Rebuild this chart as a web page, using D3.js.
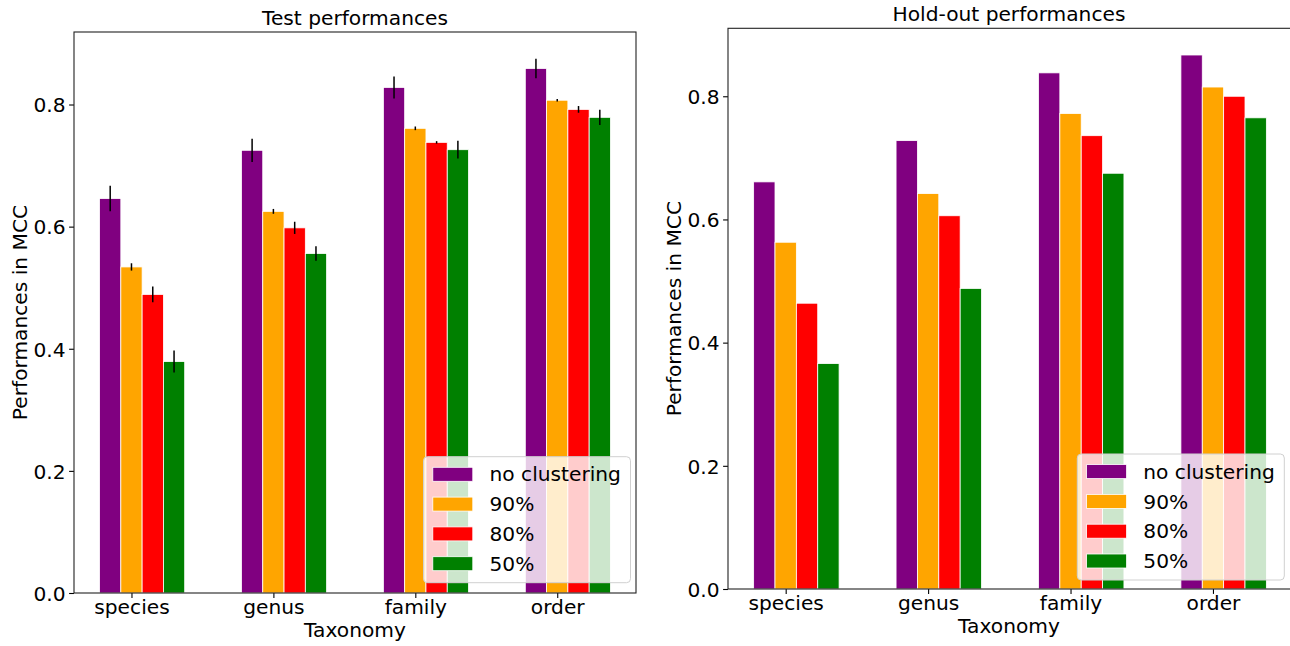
<!DOCTYPE html>
<html>
<head>
<meta charset="utf-8">
<script src="https://cdn.jsdelivr.net/npm/d3@7"></script>
<style>
  html, body { margin: 0; padding: 0; background: #fff; }
  svg { display: block; }
  text { font-family: "DejaVu Sans", sans-serif; fill: #000; }
</style>
</head>
<body>
<svg id="chart" width="1290" height="646"></svg>
<script>
// ---------- data ----------
const categories = ["species", "genus", "family", "order"];
const seriesNames = ["no clustering", "90%", "80%", "50%"];
const seriesColors = ["purple", "orange", "red", "green"];
const yTickValues = [0.0, 0.2, 0.4, 0.6, 0.8];

// Test performances (means and error half-widths)
const testNoClustering = [0.646, 0.725, 0.828, 0.859];
const test90 = [0.534, 0.625, 0.761, 0.807];
const test80 = [0.489, 0.598, 0.738, 0.792];
const test50 = [0.379, 0.556, 0.726, 0.779];
const testErrNoClustering = [0.021, 0.019, 0.018, 0.016];
const testErr90 = [0.006, 0.004, 0.003, 0.002];
const testErr80 = [0.013, 0.010, 0.002, 0.0055];
const testErr50 = [0.018, 0.012, 0.0145, 0.0125];

// Hold-out performances
const holdNoClustering = [0.661, 0.728, 0.838, 0.867];
const hold90 = [0.563, 0.642, 0.772, 0.815];
const hold80 = [0.464, 0.606, 0.736, 0.800];
const hold50 = [0.366, 0.488, 0.675, 0.765];

// ---------- panel layout ----------
const panels = [
  { title: "Test performances", x0: 74, x1: 636, y0: 32, y1: 593,
    values: [testNoClustering, test90, test80, test50],
    errors: [testErrNoClustering, testErr90, testErr80, testErr50],
    legendX: 423.5, legendY: 456.7 },
  { title: "Hold-out performances", x0: 728, x1: 1292, y0: 28.3, y1: 589,
    values: [holdNoClustering, hold90, hold80, hold50],
    errors: null,
    legendX: 1077.3, legendY: 454 }
];

const svg = d3.select("#chart");
const FS = 20.2;
const barW = 0.15;

panels.forEach(p => {
  const g = svg.append("g");
  const nCat = categories.length;
  // x-limits like matplotlib default margins (5%)
  const lo = -1 * barW - barW / 2, hi = (nCat - 1) + 2 * barW + barW / 2;
  const span = hi - lo;
  const x = d3.scaleLinear().domain([lo - 0.05 * span, hi + 0.05 * span]).range([p.x0, p.x1]);

  let maxTop = 0;
  p.values.forEach((arr, s) => arr.forEach((v, i) => {
    const e = p.errors ? p.errors[s][i] : 0;
    maxTop = Math.max(maxTop, v + e);
  }));
  const y = d3.scaleLinear().domain([0, maxTop * 1.05]).range([p.y1, p.y0]);

  // bars
  p.values.forEach((arr, s) => {
    const off = (s - 1) * barW;
    g.append("g").selectAll("rect")
      .data(arr)
      .join("rect")
      .attr("x", (d, i) => x(i + off - barW / 2))
      .attr("width", (d, i) => x(i + off + barW / 2) - x(i + off - barW / 2))
      .attr("y", d => y(d))
      .attr("height", d => y(0) - y(d))
      .attr("fill", seriesColors[s])
      .attr("stroke", "#fff")
      .attr("stroke-width", 0.8);
    if (p.errors) {
      g.append("g").selectAll("line")
        .data(arr)
        .join("line")
        .attr("x1", (d, i) => x(i + off))
        .attr("x2", (d, i) => x(i + off))
        .attr("y1", (d, i) => y(d - p.errors[s][i]))
        .attr("y2", (d, i) => y(d + p.errors[s][i]))
        .attr("stroke", "#000")
        .attr("stroke-width", 1.5);
    }
  });

  // axes
  const xAxis = d3.axisBottom(x)
    .tickValues(d3.range(nCat))
    .tickFormat(i => categories[i])
    .tickSizeOuter(0).tickSize(4.9).tickPadding(4);
  const gx = g.append("g").attr("transform", `translate(0,${p.y1})`).call(xAxis);
  gx.select(".domain").remove();
  gx.selectAll("line").attr("stroke", "#000").attr("stroke-width", 1.1);
  gx.selectAll("text").attr("font-size", FS).attr("font-family", "DejaVu Sans")
    .attr("dy", null).attr("y", 20.5).attr("dominant-baseline", "alphabetic");

  const yAxis = d3.axisLeft(y)
    .tickValues(yTickValues)
    .tickFormat(d3.format(".1f"))
    .tickSizeOuter(0).tickSize(4.9).tickPadding(3.6);
  const gy = g.append("g").attr("transform", `translate(${p.x0},0)`).call(yAxis);
  gy.select(".domain").remove();
  gy.selectAll("line").attr("stroke", "#000").attr("stroke-width", 1.1);
  gy.selectAll("text").attr("font-size", FS).attr("font-family", "DejaVu Sans")
    .attr("dy", "0.36em");

  // frame (spines)
  g.append("rect")
    .attr("x", p.x0).attr("y", p.y0)
    .attr("width", p.x1 - p.x0).attr("height", p.y1 - p.y0)
    .attr("fill", "none").attr("stroke", "#222").attr("stroke-width", 1.1);

  const cx = (p.x0 + p.x1 - (p.x1 > 1290 ? 2 : 0)) / 2;
  // title
  g.append("text")
    .attr("x", cx)
    .attr("y", p.y0 - 7)
    .attr("text-anchor", "middle")
    .attr("font-size", FS)
    .text(p.title);

  // axis labels
  g.append("text")
    .attr("x", cx)
    .attr("y", p.y1 + 44)
    .attr("text-anchor", "middle")
    .attr("font-size", FS)
    .text("Taxonomy");
  g.append("text")
    .attr("transform", `translate(${p.x0 - 47},${(p.y0 + p.y1) / 2}) rotate(-90)`)
    .attr("text-anchor", "middle")
    .attr("font-size", FS)
    .text("Performances in MCC");

  // legend
  const lg = g.append("g").attr("transform", `translate(${p.legendX},${p.legendY})`);
  lg.append("rect")
    .attr("width", 207).attr("height", 126)
    .attr("rx", 4).attr("ry", 4)
    .attr("fill", "#fff").attr("fill-opacity", 0.8)
    .attr("stroke", "#d0d0d0").attr("stroke-width", 1);
  seriesNames.forEach((name, s) => {
    const ty = 10.6 + s * 29.8;
    lg.append("rect")
      .attr("x", 9.3).attr("y", ty)
      .attr("width", 40).attr("height", 14)
      .attr("fill", seriesColors[s])
      .attr("stroke", "#fff").attr("stroke-width", 0.8);
    lg.append("text")
      .attr("x", 66).attr("y", ty + 14.2)
      .attr("font-size", FS)
      .text(name);
  });
});
</script>
</body>
</html>
